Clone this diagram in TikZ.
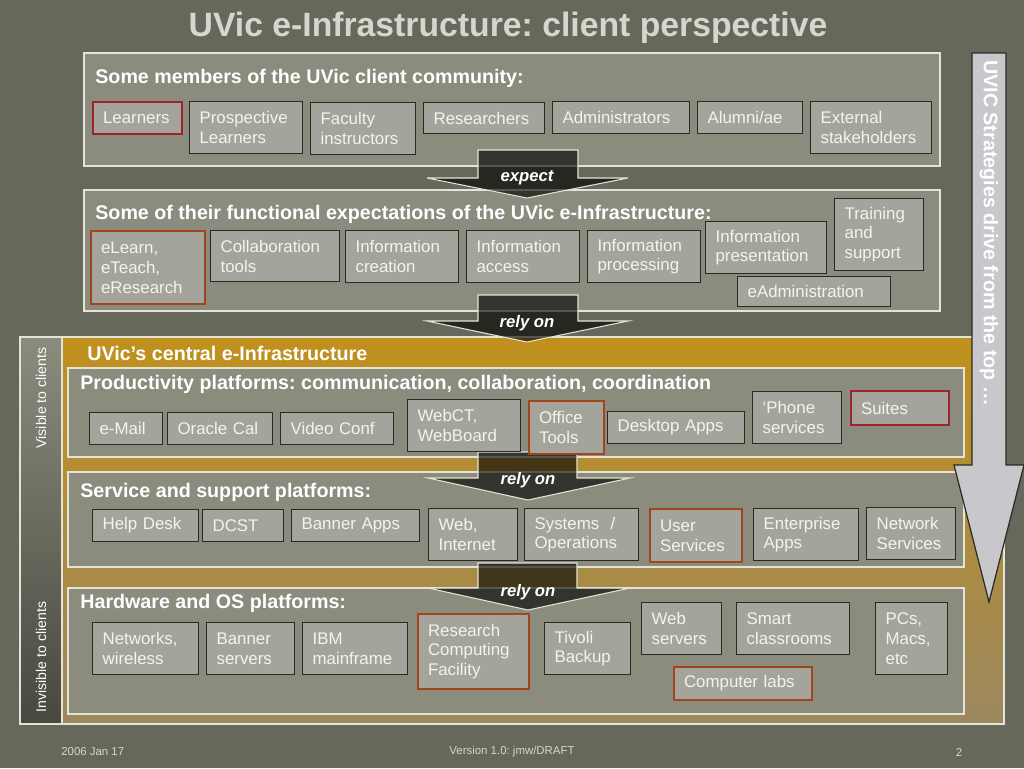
\documentclass[tikz,border=0pt]{standalone}
\usepackage{fontspec}
\setmainfont{Liberation Sans}
\usetikzlibrary{calc}
\definecolor{slidebg}{HTML}{67685C}
\definecolor{panelfill}{HTML}{8B8B7E}
\definecolor{panelline}{HTML}{E4E4D6}
\definecolor{itemfill}{HTML}{A4A39C}
\definecolor{itemline}{HTML}{2A2A25}
\definecolor{itemtext}{HTML}{F4F4EE}
\definecolor{redline}{HTML}{98262A}
\definecolor{rustline}{HTML}{A2441C}
\definecolor{goldtop}{HTML}{C0901C}
\definecolor{goldlow}{HTML}{9C8860}
\definecolor{stripdark}{HTML}{48483F}
\definecolor{titlegray}{HTML}{D6D6CC}
\definecolor{bigarrow}{HTML}{C8C8CC}
\frenchspacing

\begin{document}
\begin{tikzpicture}[x=0.02cm,y=-0.02cm]
       \tikzstyle{panel} = [draw=panelline, fill=panelfill, line width=0.6pt];
       \tikzstyle{item} = [draw=itemline, fill=itemfill, text=itemtext, anchor=north west, align=left, inner xsep=0.2cm, inner ysep=0pt, line width=0.7pt, font=\fontsize{9.6}{11.3}\selectfont];
       \tikzstyle{redbox} = [draw=redline, line width=1.2pt];
       \tikzstyle{rustbox} = [draw=rustline, line width=1.2pt];
       \tikzstyle{heading} = [anchor=west, inner sep=0pt, text=white, font=\fontsize{11.2}{13}\bfseries\selectfont];
       \tikzstyle{flow} = [fill=black, fill opacity=0.62, draw=panelline, line width=0.6pt];
       \tikzstyle{flowlabel} = [inner sep=0pt, text=white, font=\fontsize{9.5}{11}\bfseries\itshape\selectfont];
       \tikzstyle{footer} = [inner sep=0pt, text=titlegray, font=\fontsize{6.5}{8}\selectfont];

       \fill[slidebg] (0,0) rectangle (1024,768);
       \useasboundingbox (0,0) rectangle (1024,768);

       \node[text=titlegray, font=\fontsize{19.2}{22}\bfseries\selectfont] (title) at (508,28) {UVic e-Infrastructure: client perspective};

       % client community
       \filldraw[panel] (84,53) rectangle (940,166);
       \node[heading] (members) at (95,78) {Some members of the UVic client community:};
       \node[item, redbox, text width=1.38cm, minimum height=0.64cm] (learners) at (92,101) {Learners};
       \node[item, text width=1.86cm, minimum height=1.04cm] (prospective) at (189,101) {Prospective\\Learners};
       \node[item, text width=1.70cm, minimum height=1.04cm] (faculty) at (310,102) {Faculty\\instructors};
       \node[item, text width=2.02cm, minimum height=0.62cm] (researchers) at (423,102) {Researchers};
       \node[item, text width=2.34cm, minimum height=0.64cm] (administrators) at (552,101) {Administrators};
       \node[item, text width=1.70cm, minimum height=0.64cm] (alumni) at (697,101) {Alumni/ae};
       \node[item, text width=2.02cm, minimum height=1.04cm] (external) at (810,101) {External\\stakeholders};

       % functional expectations
       \filldraw[panel] (84,190) rectangle (940,311);
       \node[heading] (expectations) at (95,214) {Some of their functional expectations of the UVic e-Infrastructure:};

       % central e-Infrastructure
       \shade[top color=goldtop, bottom color=goldlow] (62,337) rectangle (1004,724);
       \draw[panelline, line width=0.6pt] (62,337) rectangle (1004,724);
       \shade[top color=panelfill, bottom color=stripdark] (20,337) rectangle (62,724);
       \draw[panelline, line width=0.6pt] (20,337) rectangle (62,724);
       \node[text=white, rotate=90, font=\fontsize{8}{9}\selectfont] (visible) at (41,398) {Visible to clients};
       \node[text=white, rotate=90, font=\fontsize{8}{9}\selectfont] (invisible) at (41,657) {Invisible to clients};
       \node[heading] (central) at (87,353) {UVic’s central e-Infrastructure};

       \filldraw[panel] (68,368) rectangle (964,457);
       \node[heading] (productivity) at (80,384) {Productivity platforms: communication, collaboration, coordination};
       \filldraw[panel] (68,472) rectangle (964,567);
       \node[heading] (service) at (80,492) {Service and support platforms:};
       \filldraw[panel] (68,588) rectangle (964,714);
       \node[heading] (hardware) at (80,603) {Hardware and OS platforms:};

       % expect / rely on
       \filldraw[flow] (478,150) -- (578,150) -- (578,178) -- (628,178) -- (527,198) -- (427,178) -- (478,178) -- cycle;
       \node[flowlabel] (expect) at (527,178) {expect};
       \filldraw[flow] (478,295) -- (578,295) -- (578,321) -- (628,321) -- (527,342) -- (427,321) -- (478,321) -- cycle;
       \node[flowlabel] (relyA) at (527,323) {rely on};
       \filldraw[flow] (478,452) -- (577,452) -- (577,478) -- (630,478) -- (528,500) -- (428,478) -- (478,478) -- cycle;
       \node[flowlabel] (relyB) at (528,480) {rely on};
       \filldraw[flow] (478,563) -- (577,563) -- (577,588) -- (630,588) -- (528,610) -- (428,588) -- (478,588) -- cycle;
       \node[flowlabel] (relyC) at (528,592) {rely on};

       \node[item, rustbox, text width=1.88cm, minimum height=1.46cm] (elearn) at (90,230) {eLearn,\\eTeach,\\eResearch};
       \node[item, text width=2.18cm, minimum height=1.02cm] (collab) at (210,230) {Collaboration\\tools};
       \node[item, text width=1.86cm, minimum height=1.04cm] (infocreate) at (345,230) {Information\\creation};
       \node[item, text width=1.86cm, minimum height=1.04cm] (infoaccess) at (466,230) {Information\\access};
       \node[item, text width=1.86cm, minimum height=1.04cm] (infoproc) at (587,230) {Information\\processing};
       \node[item, text width=2.02cm, minimum height=1.04cm] (infopres) at (705,221) {Information\\presentation};
       \node[item, text width=1.38cm, minimum height=1.44cm] (training) at (834,198) {Training\\and\\support};
       \node[item, text width=2.66cm, minimum height=0.60cm] (eadmin) at (737,276) {eAdministration};

       \node[item, text width=1.06cm, minimum height=0.64cm] (email) at (89,412) {e-Mail};
       \node[item, text width=1.70cm, minimum height=0.64cm] (oracle) at (167,412) {Oracle Cal};
       \node[item, text width=1.86cm, minimum height=0.64cm] (video) at (280,412) {Video Conf};
       \node[item, text width=1.86cm, minimum height=1.04cm] (webct) at (407,399) {WebCT,\\WebBoard};
       \node[item, rustbox, text width=1.10cm, minimum height=1.06cm] (office) at (528,400) {Office\\Tools};
       \node[item, text width=2.34cm, minimum height=0.64cm] (desktop) at (607,411) {Desktop Apps};
       \node[item, text width=1.38cm, minimum height=1.04cm] (phone) at (752,391) {‘Phone\\services};
       \node[item, redbox, text width=1.56cm, minimum height=0.68cm] (suites) at (850,390) {Suites};

       \node[item, text width=1.72cm, minimum height=0.64cm] (helpdesk) at (92,509) {Help Desk};
       \node[item, text width=1.22cm, minimum height=0.64cm] (dcst) at (202,509) {DCST};
       \node[item, text width=2.16cm, minimum height=0.64cm] (bannerapps) at (291,509) {Banner Apps};
       \node[item, text width=1.38cm, minimum height=1.04cm] (web) at (428,508) {Web,\\Internet};
       \node[item, text width=1.88cm, minimum height=1.04cm] (systems) at (524,508) {Systems\ \ /\\Operations};
       \node[item, rustbox, text width=1.44cm, minimum height=1.06cm] (userserv) at (649,508) {User\\Services};
       \node[item, text width=1.70cm, minimum height=1.04cm] (enterprise) at (753,508) {Enterprise\\Apps};
       \node[item, text width=1.38cm, minimum height=1.04cm] (network) at (866,507) {Network\\Services};

       \node[item, text width=1.72cm, minimum height=1.04cm] (networks) at (92,622) {Networks,\\wireless};
       \node[item, text width=1.36cm, minimum height=1.04cm] (bannerserv) at (206,622) {Banner\\servers};
       \node[item, text width=1.70cm, minimum height=1.04cm] (ibm) at (302,622) {IBM\\mainframe};
       \node[item, rustbox, text width=1.82cm, minimum height=1.50cm] (research) at (417,613) {Research\\Computing\\Facility};
       \node[item, text width=1.32cm, minimum height=1.04cm] (tivoli) at (544,622) {Tivoli\\Backup};
       \node[item, text width=1.20cm, minimum height=1.04cm] (websrv) at (641,602) {Web\\servers};
       \node[item, text width=1.86cm, minimum height=1.04cm] (smart) at (736,602) {Smart\\classrooms};
       \node[item, text width=1.04cm, minimum height=1.44cm] (pcs) at (875,602) {PCs,\\Macs,\\etc};
       \node[item, rustbox, text width=2.36cm, minimum height=0.66cm] (labs) at (673,666) {Computer labs};

       % strategies arrow
       \filldraw[fill=bigarrow, draw=itemline, line width=0.7pt] (972,53) -- (1006,53) -- (1006,465) -- (1024,465) -- (989,602) -- (954,465) -- (972,465) -- cycle;
       \node[anchor=west, rotate=-90, inner sep=0pt, text=white, font=\fontsize{11.2}{13}\bfseries\selectfont] (strategies) at (989,60) {UVIC Strategies drive from the top …};

       \node[footer, anchor=west] (date) at (61,752) {2006 Jan 17};
       \node[footer] (version) at (512,752) {Version 1.0: jmw/DRAFT};
       \node[footer] (page) at (959,752) {2};
\end{tikzpicture}
\end{document}
